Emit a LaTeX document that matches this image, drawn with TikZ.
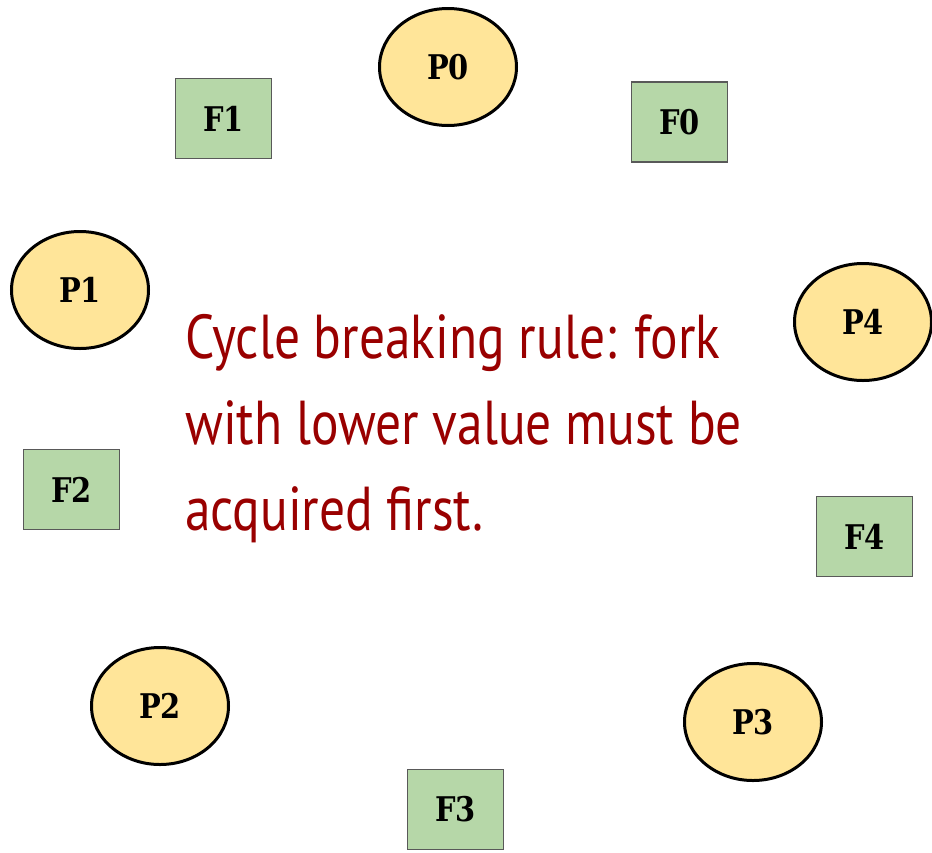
\documentclass[tikz,border=0pt]{standalone}
\usepackage{fontspec}
\usetikzlibrary{shapes.geometric}
\newfontfamily\labelfont{DejaVu Serif}[FakeStretch=0.85]
\newfontfamily\rulefont{PT Sans}[FakeStretch=0.83]
\definecolor{philfill}{HTML}{FFE599}
\definecolor{forkfill}{HTML}{B6D7A8}
\definecolor{forkline}{HTML}{595959}
\definecolor{rulered}{HTML}{990000}
\tikzset{
  phil/.style={ellipse, draw=black, line width=3pt, fill=philfill,
    minimum width=137pt, minimum height=117pt, inner sep=0pt,
    font=\labelfont\bfseries\fontsize{34}{34}\selectfont},
  fork/.style={rectangle, draw=forkline, line width=1.5pt, fill=forkfill,
    minimum width=96pt, minimum height=80pt, inner sep=0pt,
    font=\labelfont\bfseries\fontsize{34}{34}\selectfont},
  rule/.style={text=rulered, align=left, inner sep=0pt,
    font=\rulefont\fontsize{62}{86}\selectfont}
}
\begin{document}
\begin{tikzpicture}[x=1pt,y=-1pt]
  \useasboundingbox (0,0) rectangle (932,852);
  % philosophers
  \node[phil] (p0) at (448,67) {P0};
  \node[phil] (p1) at (80,290) {P1};
  \node[phil] (p2) at (160,706) {P2};
  \node[phil] (p3) at (753,722) {P3};
  \node[phil] (p4) at (863,322) {P4};
  % forks
  \node[fork] (f0) at (679.5,122) {F0};
  \node[fork] (f1) at (223.5,118.5) {F1};
  \node[fork] (f2) at (71.5,489.5) {F2};
  \node[fork] (f3) at (455.5,809.5) {F3};
  \node[fork] (f4) at (864.5,536.5) {F4};
  % rule text (anchored at the baseline of its last line)
  \node[rule, anchor=base west] (rule) at (185,530)
    {Cycle breaking rule: fork\\with lower value must be\\acquired first.};
\end{tikzpicture}
\end{document}
